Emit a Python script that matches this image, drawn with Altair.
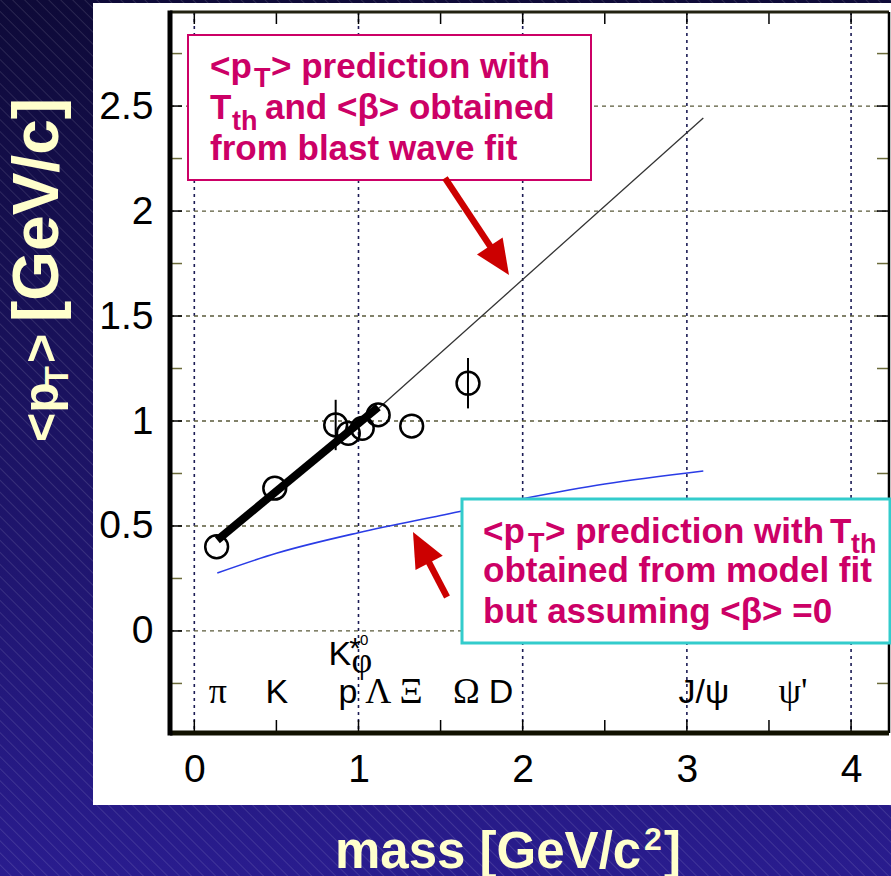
import altair as alt
import pandas as pd
import urllib.parse

# ---------------- data ----------------
pt_mass = [0.136, 0.49, 0.861, 0.938, 1.023, 1.12, 1.324, 1.667]
pt_mean = [0.401, 0.68, 0.981, 0.941, 0.965, 1.029, 0.976, 1.18]
pt_err = [0.0, 0.0, 0.12, 0.0, 0.0, 0.0, 0.0, 0.12]

fit_mass = [0.14, 1.12]
fit_pt = [0.433, 1.066]

blast_mass = [1.0, 3.1]
blast_pt = [0.975, 2.443]

static_mass = [0.14, 0.5, 1.0, 1.5, 2.0, 2.5, 3.1]
static_pt = [0.276, 0.37, 0.468, 0.55, 0.63, 0.70, 0.762]

latin_names = ["K", "p", "D", "J/ψ"]
latin_mass = [0.502, 0.936, 1.868, 3.104]
greek_names = ["π", "Λ", "Ξ", "Ω", "ψ'"]
greek_mass = [0.144, 1.12, 1.32, 1.657, 3.646]
label_y = -0.343

x_grid = [0, 1, 2, 3, 4]
y_grid = [0, 0.5, 1, 1.5, 2, 2.5]
x_ticks = [0, 0.5, 1, 1.5, 2, 2.5, 3, 3.5, 4]
y_major = [0, 0.5, 1, 1.5, 2, 2.5]
y_minor = [-0.25, 0.25, 0.75, 1.25, 1.75, 2.25, 2.75]

W, H = 719, 721
PL, PT = 170, 12
PINK = "#cc0066"
CYAN = "#33cccc"
RED = "#cc0000"
TITLE = "#ffffcc"
SANS = "Liberation Sans"

xs = alt.Scale(domain=[-0.148, 4.231], nice=False, zero=False)
ys = alt.Scale(domain=[-0.486, 2.948], nice=False, zero=False)
xaxis = alt.Axis(values=x_grid, grid=False, ticks=False, tickSize=0, domain=False,
                 labelFontSize=39, labelFont=SANS, labelColor="black", labelPadding=48,
                 labelBaseline="alphabetic", labelOverlap=False, labelFlush=False,
                 format="~g", title=None, zindex=1)
yaxis = alt.Axis(values=y_grid, grid=False, ticks=False, tickSize=0, domain=False,
                 labelFontSize=39, labelFont=SANS, labelColor="black", labelPadding=17,
                 labelAlign="right", labelBaseline="middle", labelOverlap=False,
                 labelFlush=False, format="~g", title=None, zindex=1)


def X(f):
    return alt.X(f, type="quantitative", scale=xs, axis=xaxis)


def Y(f):
    return alt.Y(f, type="quantitative", scale=ys, axis=yaxis)


one = pd.DataFrame({"a": [0]})

# ---------------- background ----------------
svg = (
    "<svg xmlns='http://www.w3.org/2000/svg' width='891' height='876'>"
    "<defs><linearGradient id='g' x1='0' y1='0' x2='0' y2='1'>"
    "<stop offset='0' stop-color='#0e0a38'/><stop offset='1' stop-color='#291c8e'/>"
    "</linearGradient>"
    "<pattern id='p' width='8.5' height='8.5' patternUnits='userSpaceOnUse' patternTransform='rotate(-45)'>"
    "<line x1='0' y1='0' x2='0' y2='8.5' stroke='#ffffff' stroke-opacity='0.22' stroke-width='1'/>"
    "</pattern></defs>"
    "<rect width='891' height='876' fill='url(#g)'/>"
    "<rect width='891' height='876' fill='url(#p)'/>"
    "<rect x='93' y='3' width='798' height='802' fill='white'/>"
    "</svg>"
)
uri = "data:image/svg+xml;charset=utf-8," + urllib.parse.quote(svg)
bg = alt.Chart(one).mark_image(width=891, height=876, aspect=False, align="left",
                               baseline="top").encode(
    x=alt.value(-PL), y=alt.value(-PT), url=alt.value(uri))

layers = [bg]

# ---------------- grid ----------------
gx = alt.Chart(pd.DataFrame({"v": x_grid})).mark_rule(
    color="#1c1c55", strokeWidth=1.6, strokeDash=[3, 4]).encode(
    x=X("v"), y=alt.value(0), y2=alt.value(H))
gy = alt.Chart(pd.DataFrame({"v": y_grid})).mark_rule(
    color="#5a5a3a", strokeWidth=1.3, strokeDash=[4, 4]).encode(
    y=Y("v"), x=alt.value(0), x2=alt.value(W))
layers += [gx, gy]

# ---------------- curves ----------------
static = alt.Chart(pd.DataFrame({"m": static_mass, "p": static_pt})).mark_line(
    color="#2a3ce6", strokeWidth=1.6, interpolate="monotone").encode(x=X("m"), y=Y("p"))
blast = alt.Chart(pd.DataFrame({"m": blast_mass, "p": blast_pt})).mark_line(
    color="#333333", strokeWidth=1.3).encode(x=X("m"), y=Y("p"))
fit = alt.Chart(pd.DataFrame({"m": fit_mass, "p": fit_pt})).mark_line(
    color="black", strokeWidth=8).encode(x=X("m"), y=Y("p"))
layers += [static, blast, fit]

pdf = pd.DataFrame({"m": pt_mass, "p": pt_mean,
                    "lo": [a - b for a, b in zip(pt_mean, pt_err)],
                    "hi": [a + b for a, b in zip(pt_mean, pt_err)]})
err = alt.Chart(pdf).mark_rule(color="black", strokeWidth=2).encode(
    x=X("m"), y=Y("lo"), y2="hi")
pts = alt.Chart(pdf).mark_point(shape="circle", size=520, filled=False,
                                color="black", strokeWidth=2.5, opacity=1).encode(
    x=X("m"), y=Y("p"))
layers += [err, pts]

# ---------------- particle labels ----------------
lat = alt.Chart(pd.DataFrame({"m": latin_mass, "n": latin_names, "y": [label_y] * 4})).mark_text(
    font=SANS, fontSize=34, color="black", baseline="alphabetic", align="center").encode(
    x=X("m"), y=Y("y"), text="n:N")
grk = alt.Chart(pd.DataFrame({"m": greek_mass, "n": greek_names, "y": [label_y] * 5})).mark_text(
    font="Liberation Serif", fontSize=36, color="black", baseline="alphabetic", align="center").encode(
    x=X("m"), y=Y("y"), text="n:N")
kstar = alt.Chart(pd.DataFrame({"m": [0.887], "n": ["K"], "y": [-0.162]})).mark_text(
    font=SANS, fontSize=34, color="black", baseline="alphabetic", align="center").encode(
    x=X("m"), y=Y("y"), text="n:N")
star = alt.Chart(pd.DataFrame({"m": [0.979], "n": ["*"], "y": [-0.129]})).mark_text(
    font=SANS, fontSize=30, color="black", baseline="alphabetic", align="center").encode(
    x=X("m"), y=Y("y"), text="n:N")
zero = alt.Chart(pd.DataFrame({"m": [1.035], "n": ["0"], "y": [-0.067]})).mark_text(
    font=SANS, fontSize=15, color="black", baseline="alphabetic", align="center").encode(
    x=X("m"), y=Y("y"), text="n:N")
phi = alt.Chart(pd.DataFrame({"m": [1.02], "n": ["φ"], "y": [-0.194]})).mark_text(
    font="Liberation Serif", fontSize=36, color="black", baseline="alphabetic", align="center").encode(
    x=X("m"), y=Y("y"), text="n:N")
layers += [lat, grk, kstar, star, zero, phi]

# ---------------- ticks & frame ----------------
tb = alt.Chart(pd.DataFrame({"v": x_ticks})).mark_rule(color="black", strokeWidth=1.5).encode(
    x=X("v"), y=alt.value(H - 13), y2=alt.value(H))
tt = alt.Chart(pd.DataFrame({"v": x_ticks})).mark_rule(color="black", strokeWidth=1.5).encode(
    x=X("v"), y=alt.value(0), y2=alt.value(12))
tlm = alt.Chart(pd.DataFrame({"v": y_major})).mark_rule(color="black", strokeWidth=1.5).encode(
    y=Y("v"), x=alt.value(0), x2=alt.value(12))
trm = alt.Chart(pd.DataFrame({"v": y_major})).mark_rule(color="black", strokeWidth=1.5).encode(
    y=Y("v"), x=alt.value(W - 12), x2=alt.value(W))
tln = alt.Chart(pd.DataFrame({"v": y_minor})).mark_rule(color="#6b6b3a", strokeWidth=1.5).encode(
    y=Y("v"), x=alt.value(0), x2=alt.value(12))
trn = alt.Chart(pd.DataFrame({"v": y_minor})).mark_rule(color="#6b6b3a", strokeWidth=1.5).encode(
    y=Y("v"), x=alt.value(W - 12), x2=alt.value(W))
layers += [tb, tt, tlm, trm, tln, trn]


def rule(x1, y1, x2, y2, color, w):
    return alt.Chart(one).mark_rule(color=color, strokeWidth=w, strokeCap="butt").encode(
        x=alt.value(x1), y=alt.value(y1), x2=alt.value(x2), y2=alt.value(y2))


layers += [rule(0, 0, W, 0, "#222211", 3), rule(W, 0, W, H, "black", 2.5),
           rule(0, H, W, H, "#111100", 5), rule(0, -1.5, 0, H + 2.5, "black", 5)]

# ---------------- annotation boxes ----------------


def box(x1, y1, x2, y2, stroke, w):
    return alt.Chart(one).mark_rect(fill="white", stroke=stroke, strokeWidth=w).encode(
        x=alt.value(x1 - PL), x2=alt.value(x2 - PL), y=alt.value(y1 - PT), y2=alt.value(y2 - PT))


def txt(s, px, py, size, color=PINK, font=SANS, weight="bold", angle=0, align="left"):
    return alt.Chart(one).mark_text(text=s, font=font, fontSize=size, fontWeight=weight,
                                    color=color, align=align, baseline="alphabetic",
                                    angle=angle).encode(
        x=alt.value(px - PL), y=alt.value(py - PT))


BS, SS = 35, 27
layers += [box(188, 35, 591, 180, PINK, 2), box(462, 499, 890, 643, CYAN, 3)]
layers += [
    txt("<p", 210, 78, BS), txt("T", 254, 87, SS), txt("> prediction with", 271, 78, BS),
    txt("T", 210, 119, BS), txt("th", 232, 130, SS), txt("and <β> obtained", 265, 119, BS),
    txt("from blast wave fit", 210, 160, BS),
    txt("<p", 483, 543, BS), txt("T", 528, 552, SS), txt("> prediction with", 545, 543, BS),
    txt("T", 830, 543, BS), txt("th", 851, 553, SS),
    txt("obtained from model fit", 483, 582, BS),
    txt("but assuming <β> =0", 483, 623, BS),
]

# ---------------- arrows ----------------
layers += [rule(445 - PL, 178 - PT, 498 - PL, 258 - PT, RED, 6.5),
           rule(447 - PL, 597 - PT, 422.5 - PL, 550 - PT, RED, 6.5)]
head = "M0,-1L0.75,0.7L-0.75,0.7Z"
for cx, cy, ang in [(497.7, 257.9, 146.6), (422.5, 550.2, 332.4)]:
    layers.append(alt.Chart(one).mark_point(shape=head, size=1681, filled=True, color=RED,
                                            opacity=1, angle=ang, strokeWidth=0).encode(
        x=alt.value(cx - PL), y=alt.value(cy - PT)))

# ---------------- axis titles ----------------
layers += [
    txt("mass [GeV/c", 335, 868, 51, color=TITLE),
    txt("2", 644, 850, 32, color=TITLE),
    txt("]", 664, 868, 51, color=TITLE),
    txt("<p", 58, 442, 50, color=TITLE, angle=270),
    txt("T", 68, 387, 34, color=TITLE, angle=270),
    txt(">", 58, 363, 50, color=TITLE, angle=270),
    txt("[GeV/c]", 58, 322, 64, color=TITLE, angle=270),
]

chart = alt.layer(*layers).properties(
    width=W, height=H,
    padding={"left": PL, "top": PT, "right": 891 - PL - W, "bottom": 876 - PT - H},
    autosize=alt.AutoSizeParams(type="none"),
).configure_view(stroke=None, fill=None).configure(background="#1a1260")

chart.save("out.html", embed_options={"renderer": "svg", "actions": False})
